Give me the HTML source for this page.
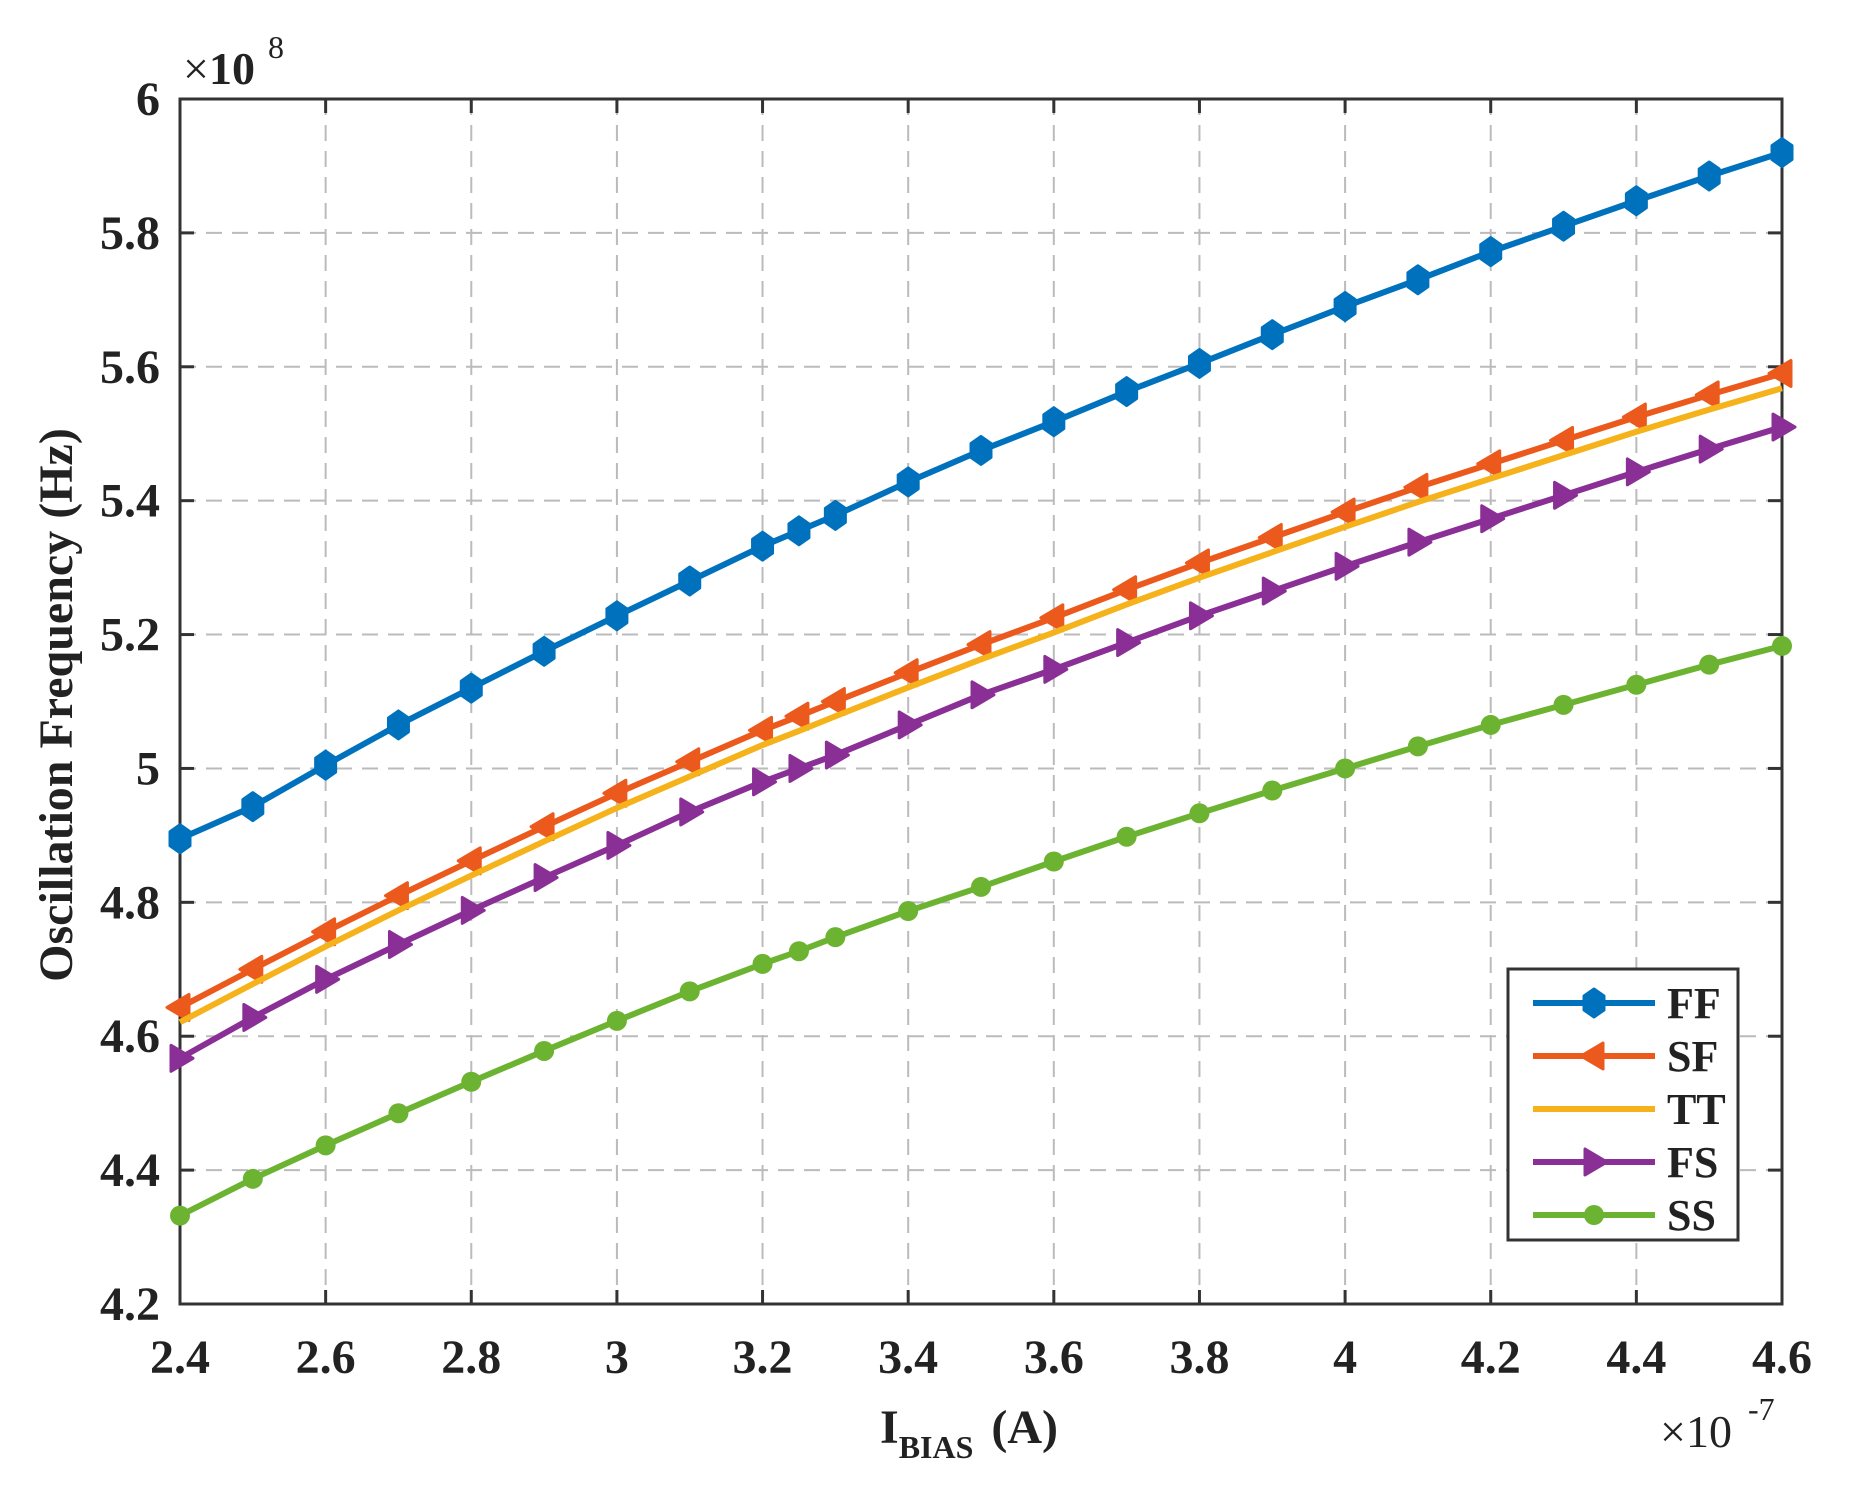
<!DOCTYPE html>
<html><head><meta charset="utf-8"><style>
html,body{margin:0;padding:0;background:#fff;}
svg{display:block;}
text{font-family:"Liberation Serif","Times New Roman",serif;font-weight:bold;fill:#222;}
</style></head><body>
<svg id="s" width="1854" height="1490" xmlns="http://www.w3.org/2000/svg"></svg>
<script>
const s=document.getElementById('s');
const L=180,R=1782,T=99,B=1304;
const X=v=>L+(v-2.4)/2.2*(R-L), Y=v=>B-(v-4.2)/1.8*(B-T);
let h='';
for(let i=1;i<11;i++){const x=X(2.4+i*0.2);h+=`<line x1="${x}" y1="${T}" x2="${x}" y2="${B}" stroke="#bbb" stroke-width="2" stroke-dasharray="16,10"/>`;}
for(let i=1;i<9;i++){const y=Y(4.2+i*0.2);h+=`<line x1="${L}" y1="${y}" x2="${R}" y2="${y}" stroke="#bbb" stroke-width="2" stroke-dasharray="16,10"/>`;}
for(let i=0;i<=11;i++){const v=2.4+i*0.2,x=X(v);h+=`<line x1="${x}" y1="${B}" x2="${x}" y2="${B-14}" stroke="#333" stroke-width="3"/><line x1="${x}" y1="${T}" x2="${x}" y2="${T+14}" stroke="#333" stroke-width="3"/>`;
h+=`<text x="${x}" y="1373" font-size="48" text-anchor="middle">${(+v.toFixed(1)).toString()}</text>`;}
for(let i=0;i<=9;i++){const v=4.2+i*0.2,y=Y(v);h+=`<line x1="${L}" y1="${y}" x2="${L+14}" y2="${y}" stroke="#333" stroke-width="3"/><line x1="${R}" y1="${y}" x2="${R-14}" y2="${y}" stroke="#333" stroke-width="3"/>`;
h+=`<text x="160" y="${y+16}" font-size="48" text-anchor="end">${(+v.toFixed(1)).toString()}</text>`;}
h+=`<rect x="${L}" y="${T}" width="${R-L}" height="${B-T}" fill="none" stroke="#333" stroke-width="3"/>`;
const xs=[2.4,2.5,2.6,2.7,2.8,2.9,3.0,3.1,3.2,3.25,3.3,3.4,3.5,3.6,3.7,3.8,3.9,4.0,4.1,4.2,4.3,4.4,4.5,4.6];
const FF=[4.895,4.943,5.005,5.065,5.12,5.175,5.228,5.28,5.332,5.355,5.378,5.428,5.475,5.518,5.563,5.605,5.648,5.69,5.73,5.772,5.81,5.848,5.885,5.92];
const SF=[4.643,4.70,4.756,4.81,4.862,4.913,4.963,5.01,5.057,5.078,5.10,5.143,5.185,5.225,5.267,5.307,5.345,5.383,5.42,5.455,5.49,5.525,5.558,5.59];
const TT=SF.map(v=>v-0.022);
const FS=[4.567,4.628,4.685,4.737,4.788,4.837,4.885,4.935,4.98,5.0,5.02,5.065,5.11,5.148,5.188,5.228,5.265,5.302,5.338,5.373,5.408,5.443,5.477,5.51];
const SS=[4.332,4.387,4.437,4.485,4.532,4.578,4.623,4.667,4.708,4.727,4.748,4.787,4.823,4.861,4.898,4.933,4.967,5.0,5.033,5.065,5.095,5.125,5.155,5.183];
function mk(t,x,y,c){
 if(t=='d')return `<polygon points="${x},${y-14} ${x+10},${y-7} ${x+10},${y+7} ${x},${y+14} ${x-10},${y+7} ${x-10},${y-7}" fill="${c}" stroke="${c}" stroke-width="3" stroke-linejoin="round"/>`;
 if(t=='l')return `<polygon points="${x-13},${y} ${x+9},${y-13} ${x+9},${y+13}" fill="${c}" stroke="${c}" stroke-width="3" stroke-linejoin="round"/>`;
 if(t=='r')return `<polygon points="${x+13},${y} ${x-9},${y-13} ${x-9},${y+13}" fill="${c}" stroke="${c}" stroke-width="3" stroke-linejoin="round"/>`;
 if(t=='o')return `<circle cx="${x}" cy="${y}" r="10" fill="${c}"/>`;
 return '';}
const ser=[[FF,'#0072BD','d','FF'],[SF,'#EB5A1C','l','SF'],[TT,'#F5B21A','','TT'],[FS,'#8A2F95','r','FS'],[SS,'#6DB332','o','SS']];
for(const [d,c,m] of ser){
 h+=`<polyline fill="none" stroke="${c}" stroke-width="6" stroke-linejoin="round" points="${xs.map((x,i)=>X(x)+','+Y(d[i])).join(' ')}"/>`;
 xs.forEach((x,i)=>h+=mk(m,X(x),Y(d[i]),c));}
h+=`<rect x="1508" y="969" width="230" height="271" fill="#fff" stroke="#333" stroke-width="3"/>`;
ser.forEach(([d,c,m,n],i)=>{const y=1003+i*53;
 h+=`<line x1="1533" y1="${y}" x2="1655" y2="${y}" stroke="${c}" stroke-width="6"/>`+mk(m,1594,y,c)+`<text x="1667" y="${y+15}" font-size="44">${n}</text>`;});
h+=`<text x="183" y="84" font-size="46" style="font-weight:normal">×<tspan font-weight="bold">10</tspan></text><text x="268" y="58" font-size="32" style="font-weight:normal">8</text>`;
h+=`<text x="1660" y="1447" font-size="46" style="font-weight:normal">×10</text><text x="1748" y="1420" font-size="32" style="font-weight:normal">-7</text>`;
h+=`<text x="880" y="1443" font-size="48">I<tspan font-size="32" dy="15">BIAS</tspan><tspan dy="-15" dx="6"> (A)</tspan></text>`;
h+=`<text transform="translate(72,705) rotate(-90)" font-size="48" text-anchor="middle">Oscillation Frequency (Hz)</text>`;
s.innerHTML=h;
</script>
</body></html>
